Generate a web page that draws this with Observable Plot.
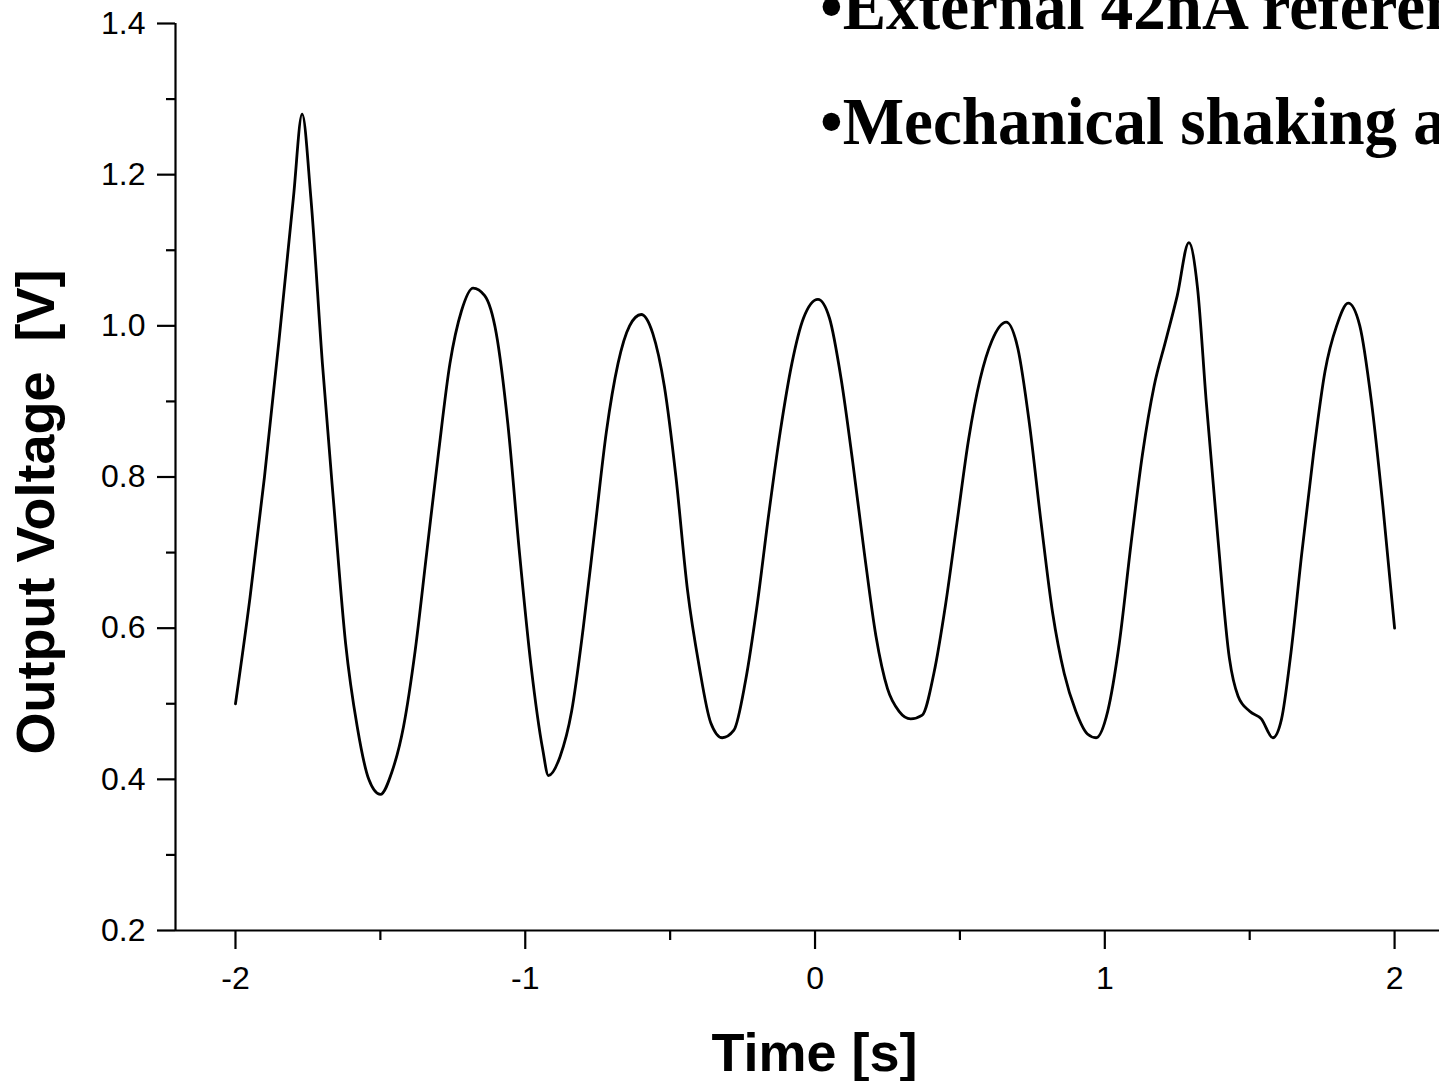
<!DOCTYPE html>
<html><head><meta charset="utf-8">
<script src="https://cdn.jsdelivr.net/npm/d3@7"></script>
<script src="https://cdn.jsdelivr.net/npm/@observablehq/plot@0.6"></script>
<style>
html,body{margin:0;padding:0;background:#fff;overflow:hidden;width:1439px;height:1081px;}
#wrap{position:relative;width:1439px;height:1081px;overflow:hidden;}
#wrap svg{position:absolute;left:0;top:0;}
.note{position:absolute;left:820px;font-family:"Liberation Serif","Times New Roman",serif;font-weight:bold;font-size:67px;line-height:67px;white-space:nowrap;transform:scaleX(0.97);transform-origin:0 0;color:#000;}
</style></head><body><div id="wrap"></div>
<script>
const time = [
 -2.00,-1.95,-1.90,-1.85,-1.80,-1.77,-1.74,-1.70,-1.66,-1.62,-1.58,-1.54,-1.50,-1.46,-1.42,-1.38,-1.34,-1.30,-1.26,-1.22,-1.18,-1.14,-1.10,-1.06,-1.02,-0.98,-0.94,-0.92,-0.88,-0.84,-0.80,-0.76,-0.72,-0.68,-0.64,-0.60,-0.56,-0.52,-0.48,-0.44,-0.40,-0.36,-0.32,-0.28,-0.24,-0.20,-0.16,-0.12,-0.08,-0.04,0.01,0.05,0.09,0.13,0.17,0.21,0.25,0.29,0.33,0.37,0.41,0.45,0.49,0.53,0.57,0.61,0.66,0.70,0.74,0.78,0.82,0.86,0.90,0.94,0.97,1.01,1.05,1.09,1.13,1.17,1.21,1.25,1.29,1.32,1.35,1.39,1.43,1.46,1.50,1.54,1.58,1.61,1.64,1.68,1.72,1.76,1.80,1.84,1.88,1.92,1.96,2.00
];
const voltage = [
 0.50,0.64,0.80,0.98,1.17,1.28,1.17,0.95,0.76,0.58,0.47,0.40,0.38,0.41,0.47,0.57,0.70,0.83,0.95,1.02,1.05,1.04,0.99,0.87,0.70,0.55,0.44,0.405,0.43,0.49,0.60,0.73,0.86,0.95,1.00,1.015,0.99,0.92,0.80,0.65,0.55,0.475,0.455,0.465,0.53,0.63,0.75,0.86,0.95,1.01,1.035,1.01,0.93,0.82,0.70,0.59,0.52,0.49,0.48,0.485,0.54,0.63,0.74,0.85,0.93,0.98,1.005,0.97,0.87,0.74,0.62,0.54,0.49,0.46,0.455,0.49,0.58,0.71,0.83,0.92,0.98,1.04,1.11,1.05,0.90,0.72,0.56,0.51,0.49,0.48,0.455,0.48,0.56,0.70,0.83,0.94,1.00,1.03,1.00,0.90,0.76,0.60
];
const yMajor = [0.2,0.4,0.6,0.8,1.0,1.2,1.4];
const yMinor = [0.3,0.5,0.7,0.9,1.1,1.3];
const xMajor = [-2,-1,0,1,2];
const xMinor = [-1.5,-0.5,0.5,1.5];
const xDomain = [-2.207, 2.155];
const yDomain = [0.2, 1.4];
const xTitle = "Time [s]";
const yTitle = "Output Voltage\u00a0 [V]";
const notes = ["•External 42nA reference", "•Mechanical shaking at"];

const data = time.map((t, i) => ({t, v: voltage[i]}));

const chart = Plot.plot({
  width: 1439, height: 1081,
  marginLeft: 175, marginRight: 0, marginTop: 23, marginBottom: 151,
  style: {fontFamily: "'Liberation Sans', Arial, sans-serif", background: "#fff", color: "#000", overflow: "visible"},
  x: {domain: xDomain, axis: null},
  y: {domain: yDomain, axis: null},
  marks: [
    Plot.line(data, {x: "t", y: "v", stroke: "#000", strokeWidth: 2.8, curve: "monotone-x"}),
    Plot.ruleX([xDomain[0]], {y1: yDomain[0], y2: yDomain[1], stroke: "#000", strokeWidth: 2.2}),
    Plot.ruleY([yDomain[0]], {stroke: "#000", strokeWidth: 2.2}),
    Plot.axisY(yMajor, {anchor: "left", tickSize: 18, tickPadding: 12, fontSize: 32, strokeWidth: 2.2, label: null, tickFormat: d => d.toFixed(1)}),
    Plot.axisY(yMinor, {anchor: "left", tickSize: 9, strokeWidth: 2.2, label: null, tickFormat: () => ""}),
    Plot.axisX(xMajor, {anchor: "bottom", tickSize: 19, tickPadding: 17, fontSize: 32, strokeWidth: 2.2, label: null, tickFormat: d => String(d)}),
    Plot.axisX(xMinor, {anchor: "bottom", tickSize: 10, strokeWidth: 2.2, label: null, tickFormat: () => ""}),
    Plot.text([xTitle], {frameAnchor: "bottom", dx: 7, dy: 123, fontSize: 54, fontWeight: "bold", fill: "#000", lineAnchor: "middle"}),
    Plot.text([yTitle], {frameAnchor: "left", textAnchor: "middle", rotate: -90, dx: -139, dy: 35, fontSize: 54, fontWeight: "bold", fill: "#000", lineAnchor: "middle"})
  ]
});
chart.querySelectorAll('g[aria-label$="tick"]').forEach(g => {
  g.setAttribute("stroke-width", "2.2");
  g.setAttribute("stroke", "#000");
  g.setAttribute("stroke-opacity", "1");
  g.querySelectorAll("*").forEach(el => { el.style.strokeWidth = "2.2px"; el.style.stroke = "#000"; el.style.strokeOpacity = "1"; });
});
const wrap = document.getElementById("wrap");
wrap.appendChild(chart);
const tops = [-27, 88];
notes.forEach((n, i) => {
  const d = document.createElement("div");
  d.className = "note";
  d.style.top = tops[i] + "px";
  d.textContent = n;
  wrap.appendChild(d);
});
</script>
</body></html>
